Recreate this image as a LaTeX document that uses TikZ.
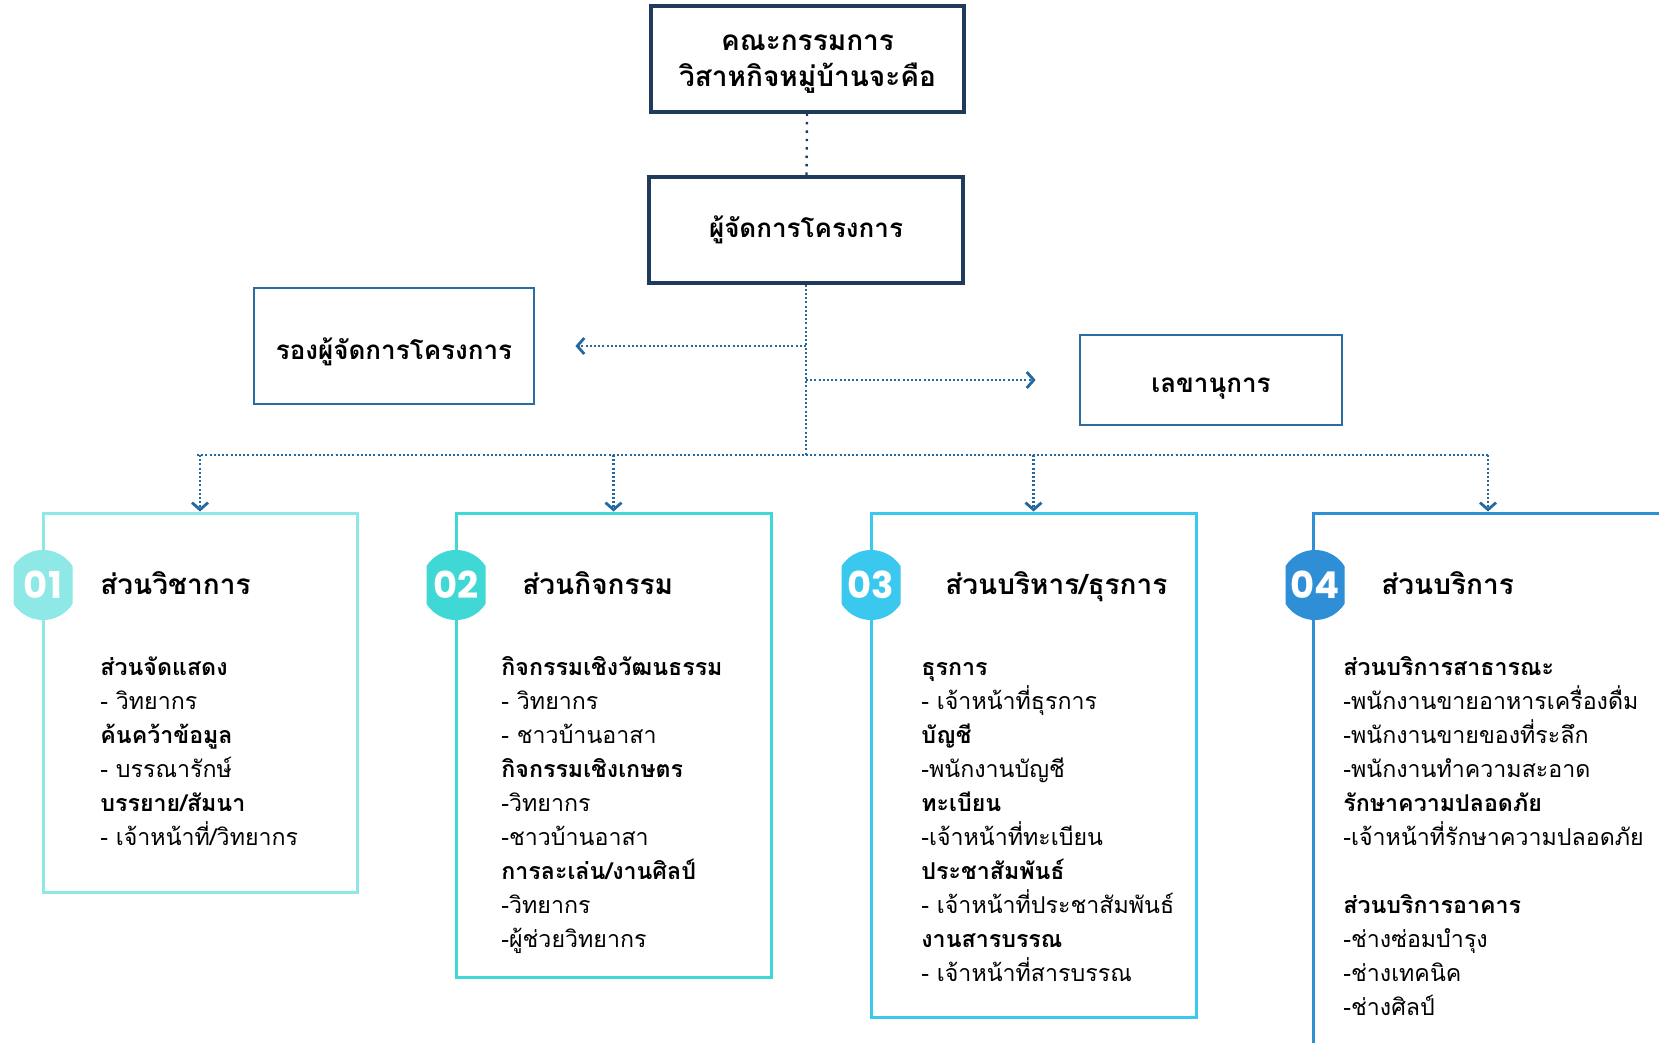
\documentclass[tikz,border=0pt]{standalone}
\usepackage{fontspec}
\setmainfont{Loma}[Script=Thai]
\newfontfamily\numfont{Poppins}
\usetikzlibrary{arrows.meta}

\definecolor{navy}{HTML}{1F3A5C}
\definecolor{linkblue}{HTML}{2468A0}
\definecolor{midblue}{HTML}{2B6CA3}
\definecolor{teamA}{HTML}{8DE8E6}
\definecolor{teamB}{HTML}{40D8D4}
\definecolor{teamC}{HTML}{3AC8EE}
\definecolor{teamD}{HTML}{2E8FD6}

\newcommand{\hd}{\bfseries}
\newcommand{\dropdown}[2]{\raisebox{-#1}[\height][\depth]{#2}}
\newcommand{\badge}[4]{%
  \begin{scope}
    \clip (#3-29.5,540) rectangle (#3+29.5,630);
    \fill[#2] (#3,585) circle (17.5pt);
  \end{scope}
  \node[badgenum] (#1) at (#3,585) {#4};
}

\tikzset{
  headbox/.style={draw=navy, line width=1.6pt, align=center, font=\fontsize{13}{17}\selectfont\bfseries},
  sidebox/.style={draw=midblue, line width=1.4pt, font=\fontsize{13}{17}\selectfont\bfseries},
  unitbox/.style={draw=#1, line width=1.5pt},
  link/.style={linkblue, line width=1.4pt, dash pattern=on 1pt off 1.1pt},
  tip/.style={-{Straight Barb[length=3.5pt,width=8pt]}},
  unittitle/.style={anchor=base west, inner sep=0pt, font=\fontsize{14}{17}\selectfont\bfseries},
  item/.style={anchor=base west, inner sep=0pt, font=\fontsize{11.6}{17}\selectfont},
  badgenum/.style={text=white, font=\numfont\bfseries\fontsize{18.5}{18}\selectfont}
}

\begin{document}
\begin{tikzpicture}[x=0.5pt, y=-0.5pt]
\useasboundingbox (0,0) rectangle (1659,1043);
\clip (0,0) rectangle (1659,1043);

\node[headbox, font=\fontsize{14}{18}\selectfont\bfseries, minimum width=156.5pt, minimum height=53pt] (board) at (807.5,59) {\dropdown{2.7pt}{คณะกรรมการ}\\\dropdown{2.7pt}{วิสาหกิจหมู่บ้านจะคือ}};
\node[headbox, minimum width=157pt, minimum height=53pt] (manager) at (806,230) {ผู้จัดการโครงการ};
\node[sidebox, minimum width=140pt, minimum height=58pt] (vice) at (394,346) {\dropdown{2.7pt}{รองผู้จัดการโครงการ}};
\node[sidebox, minimum width=131pt, minimum height=45pt] (secretary) at (1211,380) {\dropdown{4.2pt}{เลขานุการ}};

\node[unitbox=teamA, minimum width=157pt, minimum height=189.5pt] (unit1) at (200,702.5) {};
\node[unitbox=teamB, minimum width=157.5pt, minimum height=232pt] (unit2) at (613.5,745) {};
\node[unitbox=teamC, minimum width=162.5pt, minimum height=252pt] (unit3) at (1033.5,765) {};
\node[unitbox=teamD, minimum width=175pt, minimum height=281pt] (unit4) at (1488,794) {};

\draw[navy, line width=1.2pt, dash pattern=on 1.2pt off 3pt] (board) -- (manager);
\coordinate (hub) at (manager.south |- 0,455);
\draw[link] (manager) -- (hub);
\draw[link,tip] (manager.south |- vice.east) -- ([xshift=20pt]vice.east);
\draw[link,tip] (manager.south |- secretary.west) -- ([xshift=-21.5pt]secretary.west);
\draw[link] ([xshift=-1.5pt]unit1.north |- hub) -- (unit4.north |- hub);
\foreach \u in {unit1,unit2,unit3,unit4}
  \draw[link,tip] (\u.north |- hub) -- (\u.north);

\badge{num1}{teamA}{43}{01}
\badge{num2}{teamB}{456}{02}
\badge{num3}{teamC}{871}{03}
\badge{num4}{teamD}{1315}{04}

\node[unittitle] (title1) at (100,594) {ส่วนวิชาการ};
\node[unittitle] (title2) at (522,594) {ส่วนกิจกรรม};
\node[unittitle] (title3) at (945,594) {ส่วนบริหาร/ธุรการ};
\node[unittitle] (title4) at (1381,594) {ส่วนบริการ};

\foreach \t [count=\i] in {\hd ส่วนจัดแสดง, - วิทยากร, \hd ค้นคว้าข้อมูล, - บรรณารักษ์, \hd บรรยาย/สัมนา, - เจ้าหน้าที่/วิทยากร}
  \node[item] (row1\i) at (100,641+34*\i) {\t};
\foreach \t [count=\i] in {\hd กิจกรรมเชิงวัฒนธรรม, - วิทยากร, - ชาวบ้านอาสา, \hd กิจกรรมเชิงเกษตร, -วิทยากร, -ชาวบ้านอาสา, \hd การละเล่น/งานศิลป์, -วิทยากร, -ผู้ช่วยวิทยากร}
  \node[item] (row2\i) at (501,641+34*\i) {\t};
\foreach \t [count=\i] in {\hd ธุรการ, - เจ้าหน้าที่ธุรการ, \hd บัญชี, -พนักงานบัญชี, \hd ทะเบียน, -เจ้าหน้าที่ทะเบียน, \hd ประชาสัมพันธ์, - เจ้าหน้าที่ประชาสัมพันธ์, \hd งานสารบรรณ, - เจ้าหน้าที่สารบรรณ}
  \node[item] (row3\i) at (921,641+34*\i) {\t};
\foreach \t [count=\i] in {\hd ส่วนบริการสาธารณะ, -พนักงานขายอาหารเครื่องดื่ม, -พนักงานขายของที่ระลึก, -พนักงานทำความสะอาด, \hd รักษาความปลอดภัย, -เจ้าหน้าที่รักษาความปลอดภัย}
  \node[item] (row4\i) at (1343,641+34*\i) {\t};
\foreach \t [count=\i from 8] in {\hd ส่วนบริการอาคาร, -ช่างซ่อมบำรุง, -ช่างเทคนิค, -ช่างศิลป์}
  \node[item] (row4\i) at (1343,641+34*\i) {\t};
\end{tikzpicture}
\end{document}
